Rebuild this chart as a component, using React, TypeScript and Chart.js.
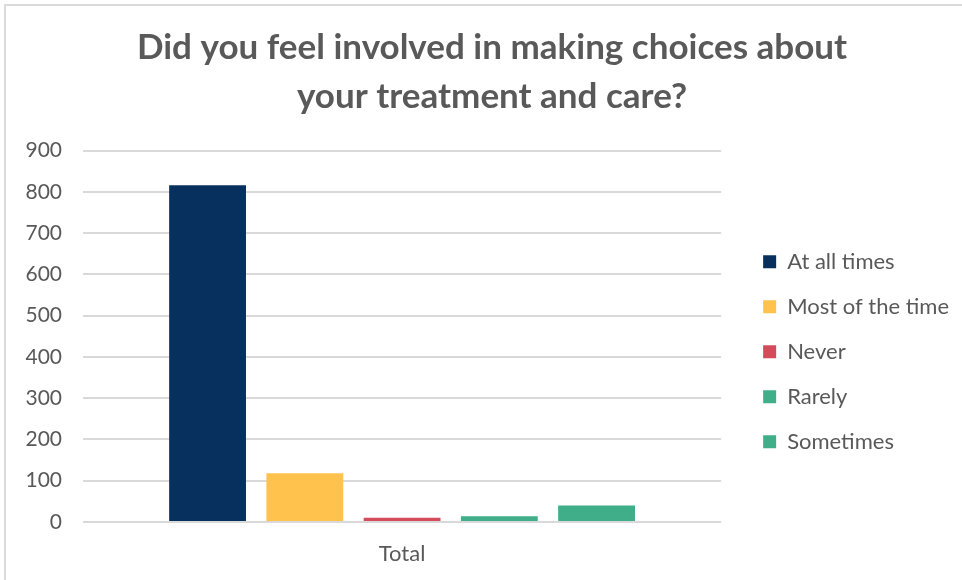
import React, { useEffect, useRef } from "react";
import { Chart, registerables } from "chart.js";

Chart.register(...registerables);

const categories = ["Total"];
const seriesNames = ["At all times", "Most of the time", "Never", "Rarely", "Sometimes"];
const seriesValues = [[816], [118], [10], [14], [40]];
const seriesColors = ["#08305E", "#FFC34D", "#D44C5C", "#41AE8A", "#41AE8A"];
const titleLines = ["Did you feel involved in making choices about", "your treatment and care?"];
const yMin = 0;
const yMax = 900;
const yStep = 100;

const FONT = "Lato, 'Open Sans', sans-serif";
const GREY = "#595959";

export default function App() {
  const ref = useRef<HTMLCanvasElement | null>(null);

  useEffect(() => {
    if (!ref.current) return;
    const chart = new Chart(ref.current, {
      type: "bar",
      data: {
        labels: categories,
        datasets: seriesNames.map((name, i) => ({
          label: name,
          data: seriesValues[i],
          backgroundColor: seriesColors[i],
          borderWidth: 0,
          categoryPercentage: 0.762,
          barPercentage: 0.79,
          yAxisID: "y",
        })),
      },
      options: {
        animation: false,
        responsive: true,
        maintainAspectRatio: false,
        layout: { padding: { left: 25, right: 19, top: 12, bottom: 0 } },
        plugins: {
          title: {
            display: true,
            text: titleLines,
            color: GREY,
            font: { family: FONT, size: 35, weight: "bold", lineHeight: 1.38 },
            padding: { top: 12, bottom: 30 },
          },
          legend: {
            position: "right",
            align: "center",
            fullSize: false,
            maxWidth: 320,
            title: { display: true, text: " ", font: { size: 25, lineHeight: 1 }, padding: 3 },
            labels: {
              boxWidth: 13,
              boxHeight: 13,
              padding: 23,
              color: GREY,
              font: { family: FONT, size: 22 },
            },
          },
          tooltip: { enabled: false },
        },
        scales: {
          x: {
            grid: { display: false, drawTicks: false },
            border: { display: false },
            ticks: { color: GREY, font: { family: FONT, size: 22 }, padding: 19 },
            afterFit: (scale: any) => {
              scale.height = 58;
            },
          },
          y: {
            min: yMin,
            max: yMax,
            ticks: { stepSize: yStep, color: GREY, font: { family: FONT, size: 21 }, padding: 21 },
            grid: { color: "#D9D9D9", lineWidth: 2, drawTicks: false },
            border: { display: false },
            afterFit: (scale: any) => {
              scale.width = 58;
            },
          },
          y2: {
            position: "right",
            display: true,
            grid: { display: false, drawTicks: false },
            border: { display: false },
            ticks: { display: false },
            afterFit: (scale: any) => {
              scale.width = 19;
            },
          },
        },
      },
    });
    return () => chart.destroy();
  }, []);

  return (
    <div style={{ position: "absolute", left: 0, top: 0, width: 962, height: 580, background: "#fff", overflow: "hidden" }}>
      <div
        style={{
          position: "absolute",
          left: 4,
          top: 4,
          right: -4,
          bottom: -4,
          borderLeft: "2px solid #DADADA",
          borderTop: "2px solid #DADADA",
        }}
      />
      <div style={{ position: "absolute", left: 0, top: 0, width: 978, height: 580 }}>
        <canvas ref={ref} />
      </div>
    </div>
  );
}
